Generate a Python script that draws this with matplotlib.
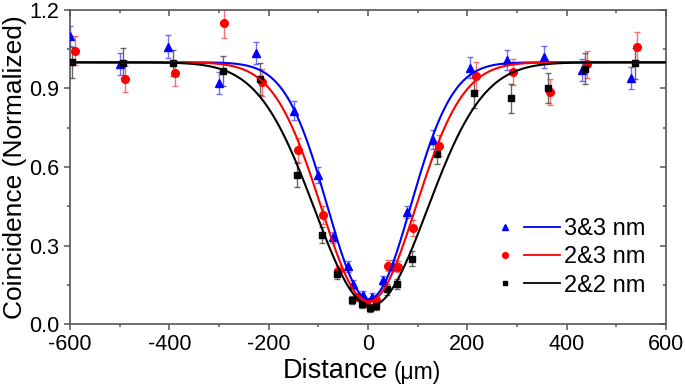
import numpy as np
import matplotlib
matplotlib.use("Agg")
import matplotlib.pyplot as plt
from matplotlib.lines import Line2D
from matplotlib.legend_handler import HandlerTuple

plt.rcParams['font.family'] = ['Liberation Sans', 'DejaVu Sans']
plt.rcParams['axes.unicode_minus'] = False

# ---- data ----
labels = ["3&3 nm", "2&3 nm", "2&2 nm"]

x_33 = [-600, -500, -402, -301, -225, -150, -100, -70, -40, -30, -10, 8, 30, 50, 79, 130, 205, 279, 354, 430, 530]
y_33 = [1.10, 0.993, 1.06, 0.92, 1.037, 0.815, 0.569, 0.331, 0.220, 0.152, 0.112, 0.104, 0.167, 0.223, 0.429, 0.705, 0.980, 1.009, 1.021, 0.971, 0.941]
e_33 = [0.038, 0.043, 0.045, 0.042, 0.042, 0.037, 0.030, 0.020, 0.020, 0.018, 0.015, 0.015, 0.018, 0.020, 0.022, 0.035, 0.040, 0.040, 0.043, 0.043, 0.041]

x_23 = [-590, -489, -389, -289, -213, -140, -90, -60, -23, -5, 17, 41, 60, 90, 142, 217, 291, 366, 441, 541]
y_23 = [1.044, 0.935, 0.958, 1.149, 0.923, 0.665, 0.417, 0.204, 0.104, 0.080, 0.092, 0.223, 0.219, 0.368, 0.681, 0.948, 0.963, 0.888, 0.992, 1.060]
e_23 = [0.055, 0.050, 0.048, 0.057, 0.050, 0.045, 0.035, 0.018, 0.015, 0.015, 0.015, 0.020, 0.020, 0.030, 0.040, 0.052, 0.050, 0.050, 0.053, 0.055]

x_22 = [-595, -493, -392, -292, -217, -142, -92, -62, -33, -13, 5, 17, 39, 58, 89, 138, 213, 288, 362, 437, 538]
y_22 = [1.000, 0.996, 0.998, 0.968, 0.936, 0.568, 0.341, 0.191, 0.093, 0.076, 0.062, 0.070, 0.132, 0.153, 0.250, 0.648, 0.882, 0.862, 0.903, 0.976, 0.996]
e_22 = [0.060, 0.057, 0.050, 0.057, 0.060, 0.046, 0.030, 0.020, 0.015, 0.015, 0.015, 0.015, 0.020, 0.020, 0.029, 0.038, 0.057, 0.056, 0.057, 0.060, 0.059]

# Gaussian-dip fit parameters: depth, center, width
fit_depth = [0.905, 0.915, 0.930]
fit_center = [2, 1, 6]
fit_sigma = [84, 95, 113]

colors = ["#0000ff", "#ff0000", "#000000"]
ecolors = ["#4d4dff", "#ff4d4d", "#444444"]
markers = ["^", "o", "s"]
msizes = [5.5, 5.5, 4.6]

xs = [x_33, x_23, x_22]
ys = [y_33, y_23, y_22]
es = [e_33, e_23, e_22]

fig = plt.figure(figsize=(6.85, 3.84), dpi=100)
ax = fig.add_axes([70/685, 1-324/384, 596/685, 314/384])

xx = np.linspace(-600, 600, 1201)
handles = []
for i in range(3):
    ax.errorbar(xs[i], ys[i], yerr=es[i], fmt='none', ecolor=ecolors[i],
                elinewidth=1.0, capsize=2.5, capthick=1.0, alpha=0.8, zorder=2)
    ax.plot(xs[i], ys[i], linestyle='none', marker=markers[i], color=colors[i],
            markersize=msizes[i], zorder=3)
    yy = 1 - fit_depth[i] * np.exp(-(xx - fit_center[i])**2 / (2 * fit_sigma[i]**2))
    ax.plot(xx, yy, color=colors[i], lw=1.5, zorder=4)
    mh = Line2D([], [], linestyle='none', marker=markers[i], color=colors[i], markersize=msizes[i]*0.75)
    lh = Line2D([], [], color=colors[i], lw=1.3)
    handles.append((mh, lh))

ax.set_xlim(-600, 600)
ax.set_ylim(0, 1.2)
ax.set_xticks(np.arange(-600, 601, 200))
ax.set_xticks(np.arange(-500, 601, 200), minor=True)
ax.set_yticks([0.0, 0.3, 0.6, 0.9, 1.2])
ax.set_yticks([0.15, 0.45, 0.75, 1.05], minor=True)
ax.set_yticklabels(["0.0", "0.3", "0.6", "0.9", "1.2"])

spine_c = "#555555"
for s in ax.spines.values():
    s.set_color(spine_c)
    s.set_linewidth(1.2)
ax.tick_params(which='both', colors=spine_c, labelcolor='black', labelsize=15.5, width=1.1,
               direction='out', top=False, right=False)
ax.tick_params(which='major', length=4.5, pad=3)
ax.tick_params(which='minor', length=2.5)

sec_x = ax.secondary_xaxis('top')
sec_x.set_xticks(np.arange(-600, 601, 200))
sec_x.set_xticks(np.arange(-500, 601, 200), minor=True)
sec_x.tick_params(which='both', direction='in', labeltop=False, colors=spine_c, width=1.1)
sec_x.tick_params(which='major', length=4)
sec_x.tick_params(which='minor', length=2.5)
sec_x.spines['top'].set_visible(False)
sec_y = ax.secondary_yaxis('right')
sec_y.set_yticks([0.0, 0.3, 0.6, 0.9, 1.2])
sec_y.set_yticks([0.15, 0.45, 0.75, 1.05], minor=True)
sec_y.tick_params(which='both', direction='in', labelright=False, colors=spine_c, width=1.1)
sec_y.tick_params(which='major', length=4)
sec_y.tick_params(which='minor', length=2.5)
sec_y.spines['right'].set_visible(False)

ax.set_ylabel("Coincidence (Normalized)", fontsize=19, labelpad=2)
ax.set_xlabel("Distance", fontsize=19.5, labelpad=2)
ax.xaxis.label.set_x(0.445)
ax.annotate("(\u03bcm)", xy=(1, 0), xycoords=ax.xaxis.label, xytext=(4, 0),
            textcoords='offset points', ha='left', va='bottom', fontsize=16.5)

leg = ax.legend(handles, labels, handler_map={tuple: HandlerTuple(ndivide=None, pad=0.0)},
                loc='upper left', bbox_to_anchor=(0.70, 0.338), frameon=False,
                fontsize=17, handlelength=3.1, handletextpad=0.15, labelspacing=0.27,
                borderpad=0, borderaxespad=0, numpoints=1)

fig.savefig("out.png", dpi=100)
